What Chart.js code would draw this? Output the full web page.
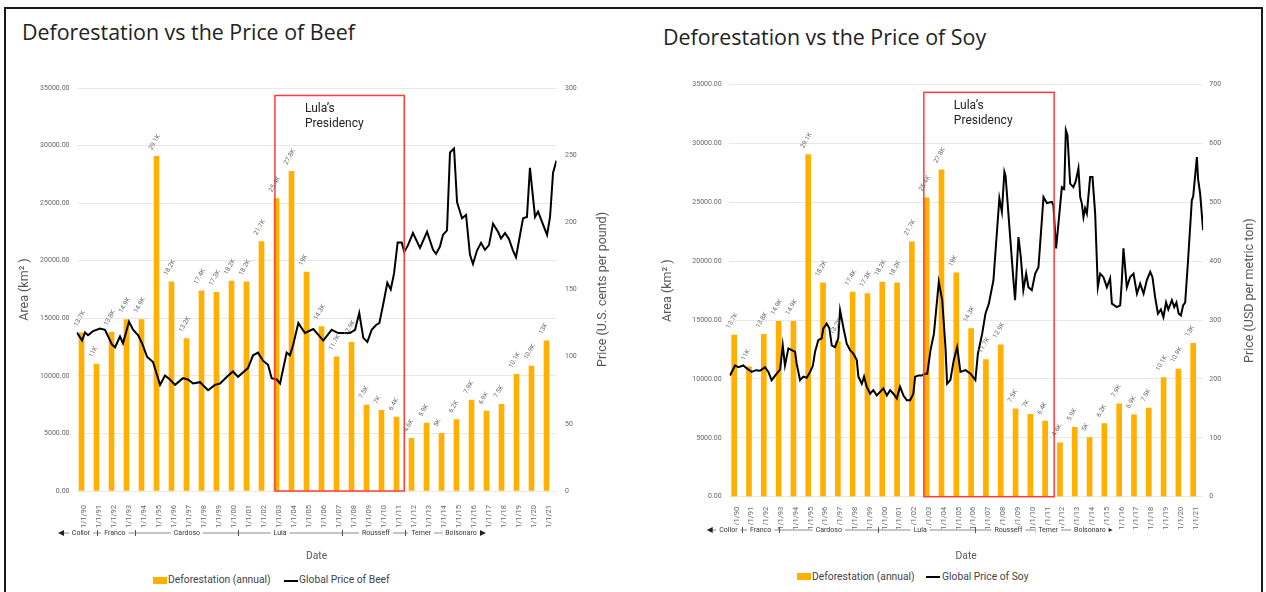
<!DOCTYPE html>
<html>
<head>
<meta charset="utf-8">
<script src="https://cdn.jsdelivr.net/npm/chart.js@4.4.1/dist/chart.umd.min.js"></script>
<style>
  html, body { margin: 0; padding: 0; background: #fff; }
  body { width: 1266px; height: 592px; overflow: hidden; position: relative; font-family: Roboto, sans-serif; }
  .frame { position: absolute; left: 4px; top: 7px; width: 1255px; height: 620px; border: 2px solid #1a1a1a; pointer-events: none; z-index: 5; }
  .title { position: absolute; font-family: "Open Sans", sans-serif; font-size: 21.4px; line-height: 21.4px; color: #222; white-space: nowrap; }
  canvas { position: absolute; top: 0; }
  .lg { position: absolute; font-size: 10.3px; line-height: 12px; color: #444; white-space: nowrap; }
  .swatch { position: absolute; width: 14px; height: 7px; background: #FFB000; }
  .dash { position: absolute; width: 14px; height: 2px; background: #000; }
</style>
</head>
<body>
<div class="frame"></div>

<div class="title" style="left:22px; top:21px">Deforestation vs the Price of Beef</div>
<div class="title" style="left:663px; top:26px">Deforestation vs the Price of Soy</div>

<canvas id="beef" width="625" height="563" style="left:0"></canvas>
<canvas id="soy" width="641" height="563" style="left:625px"></canvas>

<div class="swatch" style="left:153px; top:577px"></div>
<div class="lg" style="left:168px; top:574px">Deforestation (annual)</div>
<div class="dash" style="left:284px; top:580px"></div>
<div class="lg" style="left:299px; top:574px">Global Price of Beef</div>

<div class="swatch" style="left:797px; top:573px"></div>
<div class="lg" style="left:812px; top:571px">Deforestation (annual)</div>
<div class="dash" style="left:926px; top:576px"></div>
<div class="lg" style="left:942px; top:571px">Global Price of Soy</div>

<script>
// annual deforestation, km2 (same series on both charts)
const years = ['1/1/90', '1/1/91', '1/1/92', '1/1/93', '1/1/94', '1/1/95', '1/1/96', '1/1/97',
  '1/1/98', '1/1/99', '1/1/00', '1/1/01', '1/1/02', '1/1/03', '1/1/04', '1/1/05', '1/1/06',
  '1/1/07', '1/1/08', '1/1/09', '1/1/10', '1/1/11', '1/1/12', '1/1/13', '1/1/14', '1/1/15',
  '1/1/16', '1/1/17', '1/1/18', '1/1/19', '1/1/20', '1/1/21']
const deforestation = [13730, 11030, 13786, 14896, 14896, 29059, 18161, 13227, 17383, 17259,
  18226, 18165, 21651, 25396, 27772, 19014, 14286, 11651, 12911, 7464, 7000, 6418, 4571, 5891,
  5012, 6207, 7893, 6947, 7536, 10129, 10851, 13038]

// beef, U.S. cents per pound (date as decimal year)
const beefDates = [1990.03, 1990.37, 1990.57, 1990.77, 1991.10, 1991.57, 1991.90, 1992.37,
  1992.57, 1992.90, 1993.10, 1993.50, 1993.77, 1994.10, 1994.37, 1994.70, 1995.10, 1995.57,
  1995.90, 1996.23, 1996.57, 1997.10, 1997.43, 1997.77, 1998.23, 1998.77, 1999.23, 1999.57,
  2000.03, 2000.43, 2000.77, 2001.43, 2001.77, 2002.10, 2002.43, 2002.77, 2003.01, 2003.35,
  2003.57, 2004.01, 2004.23, 2004.45, 2004.79, 2005.23, 2005.79, 2006.45, 2007.01, 2007.45,
  2008.23, 2008.57, 2008.85, 2009.12, 2009.39, 2009.68, 2009.97, 2010.19, 2010.50, 2010.72,
  2010.95, 2011.17, 2011.41, 2011.68, 2011.85, 2012.10, 2012.43, 2012.90, 2013.37, 2013.77,
  2013.97, 2014.23, 2014.43, 2014.70, 2014.90, 2015.17, 2015.37, 2015.70, 2015.97, 2016.23,
  2016.43, 2016.70, 2016.97, 2017.23, 2017.50, 2017.77, 2018.10, 2018.30, 2018.57, 2018.83,
  2019.10, 2019.30, 2019.77, 2020.03, 2020.23, 2020.57, 2020.77, 2021.37, 2021.57, 2021.77, 2022.00]
const beefPrice = [118, 112, 118, 116, 119, 121, 120, 109, 107, 115, 110, 126, 120, 116, 110,
  100, 96, 79, 86, 83, 79, 84, 83, 80, 81, 75, 79, 80, 85, 89, 85, 91.5, 101, 103, 97, 94, 84,
  83, 80, 103, 101, 109, 125, 117.6, 120.6, 112, 120, 117.6, 117.6, 120, 132.5, 114, 111, 120,
  123.6, 125, 142, 155, 150, 162, 185, 185, 178, 183, 192, 181, 193, 179.5, 176.5, 182, 190.6,
  194, 252, 255, 215, 203, 205.5, 176, 169, 179, 184.7, 179.5, 183, 199, 193, 188, 192, 187.6,
  179, 174, 203, 204, 240.5, 204, 208, 190.6, 204, 237, 246]

// soy, USD per metric ton (date as decimal year)
const soyDates = [1990.05, 1990.39, 1990.61, 1990.95, 1991.18, 1991.51, 1991.80, 1992.07,
  1992.41, 1992.64, 1992.86, 1993.20, 1993.43, 1993.61, 1993.76, 1993.99, 1994.22, 1994.44,
  1994.55, 1994.78, 1995.00, 1995.23, 1995.45, 1995.64, 1995.79, 1996.01, 1996.24, 1996.35,
  1996.58, 1996.76, 1996.92, 1997.14, 1997.36, 1997.48, 1997.70, 1997.93, 1998.16, 1998.38,
  1998.61, 1998.72, 1998.95, 1999.10, 1999.28, 1999.51, 1999.73, 1999.96, 2000.18, 2000.41,
  2000.64, 2000.86, 2001.08, 2001.31, 2001.53, 2001.76, 2001.99, 2002.21, 2002.43, 2002.55,
  2002.77, 2003.00, 2003.22, 2003.37, 2003.59, 2003.82, 2004.15, 2004.38, 2004.60, 2004.71,
  2004.93, 2005.16, 2005.39, 2005.61, 2005.95, 2006.29, 2006.62, 2006.79, 2007.08, 2007.30,
  2007.53, 2007.84, 2008.24, 2008.41, 2008.58, 2008.66, 2008.97, 2009.19, 2009.30, 2009.53,
  2009.69, 2009.86, 2010.05, 2010.20, 2010.43, 2010.66, 2010.88, 2011.11, 2011.22, 2011.45,
  2011.78, 2011.89, 2012.07, 2012.23, 2012.46, 2012.62, 2012.73, 2012.84, 2013.02, 2013.24,
  2013.40, 2013.58, 2013.70, 2013.81, 2013.92, 2014.03, 2014.15, 2014.37, 2014.53, 2014.71,
  2014.89, 2015.05, 2015.27, 2015.50, 2015.72, 2015.84, 2016.17, 2016.40, 2016.50, 2016.62,
  2016.85, 2017.07, 2017.30, 2017.53, 2017.75, 2017.98, 2018.20, 2018.43, 2018.58, 2018.76,
  2018.95, 2019.15, 2019.32, 2019.50, 2019.65, 2019.89, 2020.05, 2020.20, 2020.35, 2020.50,
  2020.65, 2020.79, 2020.98, 2021.24, 2021.33, 2021.58, 2021.66, 2021.80, 2022.00]
const soyPrice = [206, 223, 220, 223, 218, 212, 215, 214, 220, 212, 198, 209, 216, 257, 223,
  252, 249, 246, 226, 198, 204, 202, 212, 222, 246, 266, 269, 286, 294, 286, 257, 254, 269, 317,
  288, 260, 249, 243, 232, 204, 192, 204, 187, 175, 181, 172, 178, 184, 172, 181, 175, 167, 187,
  172, 164, 164, 175, 204, 206, 206, 209, 209, 249, 277, 365, 334, 254, 192, 198, 232, 254, 212,
  215, 209, 198, 243, 277, 311, 328, 368, 507, 484, 552, 545, 441, 368, 334, 441, 407, 351, 379,
  356, 351, 379, 390, 470, 509, 499, 501, 495, 422, 464, 526, 523, 623, 614, 532, 526, 536, 558,
  509, 498, 475, 490, 481, 543, 543, 481, 356, 379, 373, 356, 371, 328, 322, 325, 362, 422, 356,
  373, 379, 345, 362, 345, 368, 382, 373, 339, 311, 318, 305, 330, 318, 334, 322, 330, 311, 308,
  325, 330, 400, 504, 510, 577, 540, 515, 453]

const presidents = ['Collor', 'Franco', 'Cardoso', 'Lula', 'Rousseff', 'Temer', 'Bolsonaro']
const lulaStart = '1/1/03'
const lulaEnd = '1/1/11'

const ORANGE = '#FFB000'
const TICK = '#666'

function fmtK(v) {
  const k = Math.round(v / 100) / 10
  return (Number.isInteger(k) ? k : k.toFixed(1)) + 'K'
}

// draws the Lula box, bar labels, right axis title and the presidents timeline
function overlayFor(o) {
  return {
    id: 'overlay',
    afterDatasetsDraw(chart) {
      const { ctx, chartArea: a, scales: { x, y } } = chart
      const step = x.getPixelForValue(1) - x.getPixelForValue(0)
      ctx.save()

      // Lula's presidency
      const bx0 = x.getPixelForValue(years.indexOf(lulaStart)) - o.lulaPad[0] * step
      const bx1 = x.getPixelForValue(years.indexOf(lulaEnd)) + o.lulaPad[1] * step
      const by0 = y.getPixelForValue(34350)
      const by1 = y.getPixelForValue(0)
      ctx.strokeStyle = '#ff3b3b'
      ctx.lineWidth = 1.5
      ctx.strokeRect(bx0, by0, bx1 - bx0, by1 - by0)
      ctx.fillStyle = '#222'
      ctx.font = '12px Roboto'
      ctx.textAlign = 'left'
      ctx.textBaseline = 'middle'
      ctx.fillText('Lula’s', bx0 + 30, by0 + 14)
      ctx.fillText('Presidency', bx0 + 30, by0 + 28.5)

      // value labels over the bars
      ctx.font = '6.5px Roboto'
      ctx.fillStyle = TICK
      chart.getDatasetMeta(0).data.forEach((bar, i) => {
        ctx.save()
        ctx.translate(bar.x - 6, bar.y - 7)
        ctx.rotate(-Math.PI / 3)
        ctx.fillText(fmtK(deforestation[i]), 0, 0)
        ctx.restore()
      })

      // right axis title (reads bottom to top)
      ctx.save()
      ctx.translate(o.rightTitleX, (a.top + a.bottom) / 2)
      ctx.rotate(-Math.PI / 2)
      ctx.textAlign = 'center'
      ctx.fillStyle = '#595959'
      ctx.font = '12.5px Roboto'
      ctx.fillText(o.rightTitle, 0, 0)
      ctx.restore()

      // presidents timeline
      const r = o.row
      const ry = a.bottom + r.dy
      const px = (f) => a.left + f * (a.right - a.left)
      const xs = px(r.start), xe = px(r.end)
      ctx.strokeStyle = '#8a8a8a'
      ctx.lineWidth = 1
      ctx.beginPath()
      ctx.moveTo(xs + 5, ry)
      ctx.lineTo(xe - 5, ry)
      ctx.stroke()
      ctx.fillStyle = '#222'
      ctx.beginPath()
      ctx.moveTo(xs, ry); ctx.lineTo(xs + 6, ry - 3); ctx.lineTo(xs + 6, ry + 3); ctx.closePath()
      ctx.moveTo(xe, ry); ctx.lineTo(xe - 6, ry - 3); ctx.lineTo(xe - 6, ry + 3); ctx.closePath()
      ctx.fill()
      ctx.strokeStyle = '#555'
      r.ticks.forEach((f) => {
        ctx.beginPath()
        ctx.moveTo(Math.round(px(f)) + 0.5, ry - 3)
        ctx.lineTo(Math.round(px(f)) + 0.5, ry + 3)
        ctx.stroke()
      })
      ctx.font = '7px Roboto'
      ctx.textAlign = 'center'
      presidents.forEach((name, i) => {
        const cx = px(r.names[i])
        const w = ctx.measureText(name).width
        ctx.fillStyle = '#fff'
        ctx.fillRect(cx - w / 2 - 3, ry - 5, w + 6, 10)
        ctx.fillStyle = '#333'
        ctx.fillText(name, cx, ry)
      })

      ctx.restore()
    }
  }
}

function drawChart(id, o) {
  return new Chart(document.getElementById(id), {
    type: 'bar',
    data: {
      labels: years,
      datasets: [
        {
          label: 'Deforestation (annual)',
          data: deforestation,
          backgroundColor: ORANGE,
          barThickness: 5,
          order: 2,
          xAxisID: 'x',
          yAxisID: 'y'
        },
        {
          type: 'line',
          label: o.lineLabel,
          data: o.dates.map((d, i) => ({ x: d, y: o.prices[i] })),
          borderColor: '#000',
          borderWidth: 2,
          pointRadius: 0,
          tension: 0,
          order: 1,
          xAxisID: 'x2',
          yAxisID: 'y1'
        }
      ]
    },
    options: {
      responsive: false,
      animation: false,
      devicePixelRatio: 1,
      events: [],
      layout: { padding: { left: 8, right: 0, top: o.top, bottom: 0 } },
      plugins: { legend: { display: false }, tooltip: { enabled: false } },
      scales: {
        x: {
          grid: { display: false },
          border: { display: false },
          ticks: {
            autoSkip: false, minRotation: 90, maxRotation: 90, padding: o.xTickPad,
            color: TICK, font: { family: 'Roboto', size: 7.5 }
          },
          title: {
            display: true, text: 'Date', color: '#595959',
            font: { family: 'Roboto', size: 10.3 }, padding: { top: 0, bottom: 0 }
          },
          afterFit: (s) => { s.height = o.xHeight }
        },
        x2: { type: 'linear', display: false, offset: false, min: 1990, max: 2022 },
        y: {
          position: 'left', min: 0, max: 35000,
          ticks: {
            stepSize: 5000, padding: o.yTickPad, color: TICK,
            font: { family: 'Roboto', size: 7 }, callback: (v) => v.toFixed(2)
          },
          grid: { color: '#e8e8e8', drawTicks: false },
          border: { display: false },
          title: {
            display: true, text: 'Area (km² )', color: '#595959',
            font: { family: 'Roboto', size: 12.5 }, padding: { top: o.yTitlePad, bottom: 0 }
          },
          afterFit: (s) => { s.width = o.leftWidth }
        },
        y1: {
          position: 'right', min: 0, max: o.priceMax,
          ticks: {
            stepSize: o.priceStep, padding: o.y1TickPad, color: TICK,
            font: { family: 'Roboto', size: 7 }
          },
          grid: { display: false, drawTicks: false },
          border: { display: false },
          afterFit: (s) => { s.width = o.rightWidth }
        }
      }
    },
    plugins: [overlayFor(o)]
  })
}

drawChart('beef', {
  lineLabel: 'Global Price of Beef',
  dates: beefDates, prices: beefPrice,
  priceMax: 300, priceStep: 50,
  rightTitle: 'Price (U.S. cents per pound)',
  top: 88, leftWidth: 68.5, rightWidth: 68.5, xHeight: 72,
  yTickPad: 7, y1TickPad: 8.5, xTickPad: 6, yTitlePad: 9.5, rightTitleX: 603,
  lulaPad: [0.27, 0.35],
  row: {
    dy: 42, start: -0.0385, end: 0.853,
    names: [0.0094, 0.080, 0.230, 0.424, 0.624, 0.718, 0.801],
    ticks: [0.043, 0.122, 0.336, 0.553, 0.684, 0.761]
  }
})

drawChart('soy', {
  lineLabel: 'Global Price of Soy',
  dates: soyDates, prices: soyPrice,
  priceMax: 700, priceStep: 100,
  rightTitle: 'Price (USD per metric ton)',
  top: 84.7, leftWidth: 96.3, rightWidth: 62.9, xHeight: 66.3,
  yTickPad: 7.6, y1TickPad: 6.2, xTickPad: 2, yTitlePad: 27.5, rightTitleX: 625,
  lulaPad: [0.36, 0.44],
  row: {
    dy: 33.3, start: -0.0477, end: 0.809,
    names: [-0.002, 0.066, 0.210, 0.403, 0.589, 0.673, 0.761],
    ticks: [0.026, 0.1055, 0.313, 0.519, 0.645, 0.724]
  }
})
</script>
</body>
</html>
